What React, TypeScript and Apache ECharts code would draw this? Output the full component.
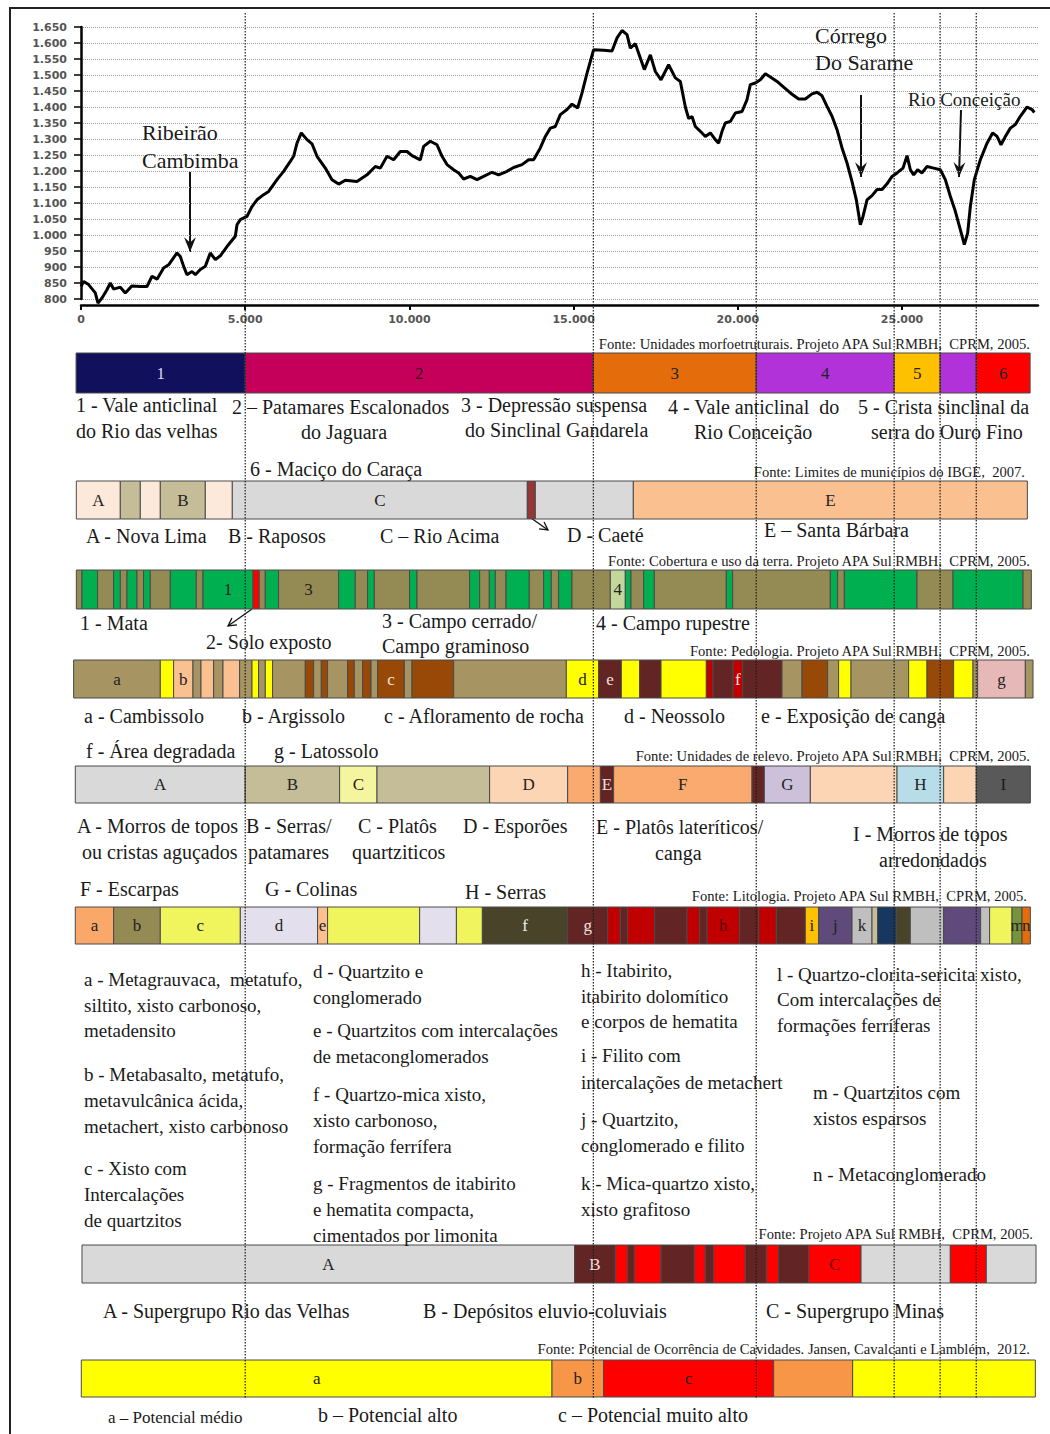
import React, { useEffect, useRef } from "react";
import * as echarts from "echarts";

// ---------------- DATA ----------------
const xTickValues = [0, 5000, 10000, 15000, 20000, 25000];
const guideDistances = [5000, 15600, 20560, 24760, 26160, 27260];

const profileDistance = [
  0, 80, 231, 435, 517, 639, 791, 892, 993, 1197, 1349, 1553, 1806, 2010, 2162, 2315, 2515, 2668, 2923, 3024,
  3125, 3226, 3380, 3481, 3633, 3785, 3937, 4090, 4242, 4445, 4699, 4750, 4851, 5055, 5207, 5359, 5561, 5714,
  5968, 6169, 6373, 6475, 6577, 6708, 6882, 7034, 7186, 7439, 7643, 7846, 8048, 8404, 8709, 8962, 9114, 9318,
  9519, 9723, 9927, 10079, 10332, 10433, 10636, 10840, 10993, 11145, 11346, 11498, 11650, 11854, 12058, 12259,
  12515, 12716, 12972, 13173, 13429, 13630, 13782, 13986, 14139, 14291, 14443, 14595, 14799, 14951, 15122,
  15256, 15408, 15609, 15914, 16169, 16322, 16474, 16626, 16727, 16879, 17031, 17153, 17336, 17488, 17662,
  17893, 18097, 18249, 18402, 18502, 18605, 18706, 18858, 19010, 19163, 19315, 19416, 19519, 19619, 19772,
  19924, 20128, 20280, 20381, 20533, 20685, 20838, 20990, 21194, 21394, 21599, 21852, 22055, 22259, 22412,
  22564, 22716, 22868, 23021, 23173, 23325, 23477, 23608, 23730, 23812, 23934, 24086, 24239, 24391, 24543,
  24696, 24848, 25030, 25152, 25253, 25354, 25476, 25609, 25761, 25963, 26166, 26318, 26470, 26623, 26775,
  26897, 26998, 27080, 27201, 27384, 27588, 27758, 27893, 28014, 28146, 28298, 28450, 28602, 28806, 28958, 29029,
];
const profileElevation = [
  839, 855, 845, 819, 787, 803, 829, 850, 831, 837, 819, 841, 839, 839, 871, 862, 897, 907, 944, 933,
  902, 876, 886, 876, 892, 902, 944, 923, 935, 964, 996, 1032, 1048, 1058, 1089, 1110, 1126, 1136,
  1173, 1199, 1230, 1246, 1287, 1319, 1298, 1285, 1246, 1209, 1173, 1159, 1171, 1167, 1188, 1214, 1209, 1246,
  1235, 1261, 1261, 1248, 1235, 1277, 1293, 1282, 1246, 1220, 1204, 1194, 1175, 1183, 1173, 1183,
  1196, 1188, 1199, 1211, 1220, 1235, 1235, 1272, 1308, 1334, 1339, 1376, 1392, 1409, 1397,
  1444, 1506, 1579, 1577, 1575, 1616, 1639, 1626, 1584, 1598, 1553, 1517, 1563, 1511, 1485,
  1532, 1491, 1480, 1400, 1364, 1370, 1339, 1324, 1308, 1319, 1298, 1287, 1324, 1350, 1355,
  1381, 1386, 1423, 1470, 1475, 1485, 1504, 1494, 1480, 1462, 1444, 1425, 1425, 1441, 1446,
  1435, 1402, 1371, 1329, 1272, 1225, 1167, 1110, 1032, 1058, 1110, 1123, 1142, 1142, 1160,
  1183, 1194, 1209, 1248, 1204, 1188, 1204, 1194, 1214, 1209, 1204, 1173, 1121, 1074, 1017,
  970, 1006, 1089, 1173, 1235, 1287, 1319, 1308, 1282, 1308, 1334, 1345, 1371, 1400, 1392, 1383,
];

// strips: [start m, end m, class, label]
const morphoSegments: [number, number, string, string][] = [
  [-150, 5000, "1", "1"], [5000, 15600, "2", "2"], [15600, 20560, "3", "3"], [20560, 24760, "4", "4"],
  [24760, 26160, "5", "5"], [26160, 27260, "4", ""], [27260, 28900, "6", "6"],
];
const municipioSegments: [number, number, string, string][] = [
  [-143, 1197, "A", "A"], [1197, 1806, "B", ""], [1806, 2415, "A", ""], [2415, 3785, "B", "B"],
  [3785, 4607, "A", ""], [4607, 13590, "C", "C"], [13590, 13834, "D", ""], [13834, 16818, "C", ""],
  [16818, 28816, "E", "E"],
];
const coberturaSegments: [number, number, string, string][] = [
  [-143, 30, "C", ""], [30, 505, "M", ""], [505, 993, "C", ""], [993, 1197, "M", ""], [1197, 1401, "C", ""],
  [1401, 1705, "M", ""], [1705, 1906, "C", ""], [1906, 2110, "M", ""], [2110, 2719, "C", ""], [2719, 3511, "M", ""],
  [3511, 3715, "C", ""], [3715, 5238, "M", "1"], [5238, 5429, "S", ""], [5429, 5612, "C", ""], [5612, 6017, "M", ""],
  [6017, 7844, "C", "3"], [7844, 8353, "M", ""], [8353, 8727, "C", ""], [8727, 8931, "M", ""], [8931, 10006, "C", ""],
  [10006, 10231, "M", ""], [10231, 11833, "C", ""], [11833, 12138, "M", ""], [12138, 12433, "C", ""],
  [12433, 12616, "M", ""], [12616, 12942, "C", ""], [12942, 13651, "M", ""], [13651, 14087, "C", ""],
  [14087, 14321, "M", ""], [14321, 14543, "C", ""], [14543, 14951, "M", ""], [14951, 16117, "C", ""],
  [16117, 16574, "R", "4"], [16574, 16748, "M", ""], [16748, 17132, "C", ""], [17132, 17458, "M", ""],
  [17458, 19650, "C", ""], [19650, 19842, "M", ""], [19842, 22817, "C", ""], [22817, 23039, "M", ""],
  [23039, 23243, "C", ""], [23243, 25457, "M", ""], [25457, 26553, "C", ""], [26553, 28685, "M", ""],
  [28685, 28937, "C", ""],
];
const pedologiaSegments: [number, number, string, string][] = [
  [-225, 2415, "a", "a"], [2415, 2820, "y", ""], [2820, 3410, "b", "b"], [3410, 3654, "a", ""], [3654, 4038, "b", ""],
  [4038, 4324, "a", ""], [4324, 4830, "b", ""], [4830, 5207, "a", ""], [5207, 5408, "y", ""], [5408, 5612, "a", ""],
  [5612, 5834, "y", ""], [5834, 6830, "a", ""], [6830, 7083, "c", ""], [7083, 7317, "a", ""], [7317, 7509, "c", ""],
  [7509, 8118, "a", ""], [8118, 8322, "c", ""], [8322, 8575, "a", ""], [8575, 8831, "c", ""], [8831, 9032, "a", ""],
  [9032, 9845, "c", "c"], [9845, 10079, "a", ""], [10079, 11346, "c", ""], [11346, 14778, "a", ""],
  [14778, 15761, "y", "d"], [15761, 16453, "e", "e"], [16453, 17010, "y", ""], [17010, 17662, "e", ""],
  [17662, 19041, "y", ""], [19041, 19245, "f", ""], [19245, 19854, "e", ""], [19854, 20146, "f", "f"],
  [20146, 21346, "e", ""], [21346, 21955, "a", ""], [21955, 22734, "c", ""], [22734, 23069, "a", ""],
  [23069, 23447, "y", ""], [23447, 25201, "a", ""], [25201, 25761, "y", ""], [25761, 26571, "c", ""],
  [26571, 27162, "y", ""], [27162, 27302, "a", ""], [27302, 28755, "g", "g"], [28755, 28989, "a", ""],
];
const relevoSegments: [number, number, string, string][] = [
  [-174, 5000, "A", "A"], [5000, 7875, "B", "B"], [7875, 9013, "C", "C"], [9013, 12442, "B", ""],
  [12442, 14818, "D", "D"], [14818, 15816, "F", ""], [15816, 16218, "E", "E"], [16218, 20432, "F", "F"],
  [20432, 20807, "E", ""], [20807, 22208, "G", "G"], [22208, 24848, "D", ""], [24848, 26267, "H", "H"],
  [26267, 27262, "D", ""], [27262, 28907, "I", "I"],
];
const litologiaSegments: [number, number, string, string][] = [
  [-174, 993, "a", "a"], [993, 2415, "b", "b"], [2415, 4851, "c", "c"], [4851, 7205, "d", "d"],
  [7205, 7509, "e", "e"], [7509, 10311, "c", ""], [10311, 11431, "d", ""], [11431, 12222, "c", ""],
  [12222, 14818, "f", "f"], [14818, 16035, "g", "g"], [16035, 16422, "h", ""], [16422, 16644, "g", ""],
  [16644, 17467, "h", ""], [17467, 18453, "g", ""], [18453, 18837, "h", ""], [18837, 19062, "g", ""],
  [19062, 20055, "h", "h"], [20055, 20633, "g", ""], [20633, 21172, "h", ""], [21172, 22055, "g", ""],
  [22055, 22460, "i", "i"], [22460, 23477, "j", "j"], [23477, 24086, "k", "k"], [24086, 24257, "t", ""],
  [24257, 24826, "l", ""], [24826, 25252, "f", ""], [25252, 26267, "k", ""], [26267, 27393, "j", ""],
  [27393, 27667, "k", ""], [27667, 28350, "c", ""], [28350, 28654, "m", "m"], [28654, 28907, "n", "n"],
];
const projetoSegments: [number, number, string, string][] = [
  [30, 15030, "A", "A"], [15030, 16270, "B", "B"], [16270, 16644, "C", ""], [16644, 16848, "B", ""],
  [16848, 17662, "C", ""], [17662, 18675, "B", ""], [18675, 19010, "C", ""], [19010, 19263, "B", ""],
  [19263, 20231, "C", ""], [20231, 20870, "B", ""], [20870, 21243, "C", ""], [21243, 22156, "B", ""],
  [22156, 23752, "C", "C"], [23752, 26470, "A", ""], [26470, 27566, "C", ""], [27566, 29080, "A", ""],
];
const potencialSegments: [number, number, string, string][] = [
  [9, 14342, "a", "a"], [14342, 15914, "b", "b"], [15914, 21090, "c", "c"], [21090, 23496, "b", ""],
  [23496, 29059, "a", ""],
];

// ---------------- STYLES ----------------
const DARK = "#222";
const LIGHT = "#eeeeee";
type Pal = Record<string, [string, string]>;
const morphoPal: Pal = {
  "1": ["#10105C", "#d8d8f0"], "2": ["#C4005A", "#3a0018"], "3": ["#E46C0A", DARK],
  "4": ["#B032D8", DARK], "5": ["#FFC000", DARK], "6": ["#FF0000", DARK],
};
const municipioPal: Pal = {
  A: ["#FDE9D9", DARK], B: ["#C4BD97", DARK], C: ["#D9D9D9", DARK], D: ["#953735", LIGHT], E: ["#FAC090", DARK],
};
const coberturaPal: Pal = {
  M: ["#00B050", DARK], C: ["#948A54", DARK], S: ["#FF0000", DARK], R: ["#C3D69B", DARK],
};
const pedologiaPal: Pal = {
  a: ["#A69563", DARK], y: ["#FFFF00", DARK], b: ["#FAC090", DARK], c: ["#984807", "#f3e3d3"],
  e: ["#632523", "#f0e0e0"], f: ["#C00000", "#ffe0e0"], g: ["#E6B9B8", DARK],
};
const relevoPal: Pal = {
  A: ["#D9D9D9", DARK], B: ["#C4BD97", DARK], C: ["#F5F5A0", DARK], D: ["#FCD5B4", DARK],
  F: ["#FAAA6E", DARK], E: ["#632523", "#f0e0e0"], G: ["#CCC0DA", DARK], H: ["#B7DEE8", DARK], I: ["#595959", "#1a1a1a"],
};
const litologiaPal: Pal = {
  a: ["#FAA86A", DARK], b: ["#948A54", DARK], c: ["#F0F55E", DARK], d: ["#E4DFEC", DARK], e: ["#FAC090", DARK],
  f: ["#494429", LIGHT], g: ["#632523", "#f0e0e0"], h: ["#C00000", "#5a0000"], i: ["#FFC000", DARK],
  j: ["#604A7B", DARK], k: ["#BFBFBF", DARK], t: ["#C4BD97", DARK], l: ["#17375E", LIGHT],
  m: ["#77933C", DARK], n: ["#E46C0A", DARK],
};
const projetoPal: Pal = { A: ["#D9D9D9", DARK], B: ["#632523", "#f0e0e0"], C: ["#FF0000", "#700000"] };
const potencialPal: Pal = { a: ["#FFFF00", DARK], b: ["#F79646", DARK], c: ["#FF0000", DARK] };

const strips = [
  { segs: morphoSegments, pal: morphoPal, top: 353, h: 40 },
  { segs: municipioSegments, pal: municipioPal, top: 481, h: 38 },
  { segs: coberturaSegments, pal: coberturaPal, top: 570, h: 39 },
  { segs: pedologiaSegments, pal: pedologiaPal, top: 660, h: 38 },
  { segs: relevoSegments, pal: relevoPal, top: 766, h: 37 },
  { segs: litologiaSegments, pal: litologiaPal, top: 907, h: 37 },
  { segs: projetoSegments, pal: projetoPal, top: 1245, h: 38 },
  { segs: potencialSegments, pal: potencialPal, top: 1360, h: 37 },
];

const SERIF = '"Liberation Serif", "Times New Roman", serif';
const FS = 14.6;

// [text, x, y, size, align]
const texts: [string, number, number, number, string?][] = [
  ["Ribeirão", 142, 132, 22], ["Cambimba", 142, 160, 22],
  ["Córrego", 815, 35, 22], ["Do Sarame", 815, 62, 22], ["Rio Conceição", 908, 99, 19],
  ["Fonte: Unidades morfoetruturais. Projeto APA Sul RMBH,  CPRM, 2005.", 1030, 344, FS, "right"],
  ["1 - Vale anticlinal", 76, 405, 20], ["do Rio das velhas", 76, 431, 20],
  ["2 – Patamares Escalonados", 232, 407, 20], ["do Jaguara", 301, 432, 20],
  ["3 - Depressão suspensa", 461, 405, 20], ["do Sinclinal Gandarela", 465, 430, 20],
  ["4 - Vale anticlinal  do", 668, 407, 20], ["Rio Conceição", 694, 432, 20],
  ["5 - Crista sinclinal da", 858, 407, 20], ["serra do Ouro Fino", 871, 432, 20],
  ["6 - Maciço do Caraça", 250, 469, 20],
  ["Fonte: Limites de municípios do IBGE,  2007.", 1025, 472, FS, "right"],
  ["A - Nova Lima", 86, 536, 20], ["B - Raposos", 228, 536, 20], ["C – Rio Acima", 380, 536, 20],
  ["D - Caeté", 567, 535, 20], ["E – Santa Bárbara", 764, 530, 20],
  ["Fonte: Cobertura e uso da terra. Projeto APA Sul RMBH,  CPRM, 2005.", 1030, 561, FS, "right"],
  ["1 - Mata", 80, 623, 20], ["2- Solo exposto", 206, 642, 20], ["3 - Campo cerrado/", 382, 621, 20],
  ["Campo graminoso", 382, 646, 20], ["4 - Campo rupestre", 596, 623, 20],
  ["Fonte: Pedologia. Projeto APA Sul RMBH,  CPRM, 2005.", 1030, 651, FS, "right"],
  ["a - Cambissolo", 84, 716, 20], ["b - Argissolo", 242, 716, 20], ["c - Afloramento de rocha", 384, 716, 20],
  ["d - Neossolo", 624, 716, 20], ["e - Exposição de canga", 761, 716, 20],
  ["f - Área degradada", 86, 751, 20], ["g - Latossolo", 274, 751, 20],
  ["Fonte: Unidades de relevo. Projeto APA Sul RMBH,  CPRM, 2005.", 1030, 756, FS, "right"],
  ["A - Morros de topos", 77, 826, 20], ["ou cristas aguçados", 82, 852, 20],
  ["B - Serras/", 246, 826, 20], ["patamares", 248, 852, 20],
  ["C - Platôs", 358, 826, 20], ["quartziticos", 352, 852, 20], ["D - Esporões", 463, 826, 20],
  ["E - Platôs lateríticos/", 596, 827, 20], ["canga", 655, 853, 20],
  ["I - Morros de topos", 853, 834, 20], ["arredondados", 879, 860, 20],
  ["F - Escarpas", 80, 889, 20], ["G - Colinas", 265, 889, 20], ["H - Serras", 465, 892, 20],
  ["Fonte: Litologia. Projeto APA Sul RMBH,  CPRM, 2005.", 1027, 896, FS, "right"],
  ["a - Metagrauvaca,  metatufo,", 84, 979, 19], ["siltito, xisto carbonoso,", 84, 1005, 19], ["metadensito", 84, 1030, 19],
  ["b - Metabasalto, metatufo,", 84, 1074, 19], ["metavulcânica ácida,", 84, 1100, 19], ["metachert, xisto carbonoso", 84, 1126, 19],
  ["c - Xisto com", 84, 1168, 19], ["Intercalações", 84, 1194, 19], ["de quartzitos", 84, 1220, 19],
  ["d - Quartzito e", 313, 971, 19], ["conglomerado", 313, 997, 19],
  ["e - Quartzitos com intercalações", 313, 1030, 19], ["de metaconglomerados", 313, 1056, 19],
  ["f - Quartzo-mica xisto,", 313, 1094, 19], ["xisto carbonoso,", 313, 1120, 19], ["formação ferrífera", 313, 1146, 19],
  ["g - Fragmentos de itabirito", 313, 1183, 19], ["e hematita compacta,", 313, 1209, 19], ["cimentados por limonita", 313, 1235, 19],
  ["h - Itabirito,", 581, 970, 19], ["itabirito dolomítico", 581, 996, 19], ["e corpos de hematita", 581, 1021, 19],
  ["i - Filito com", 581, 1055, 19], ["intercalações de metachert", 581, 1082, 19],
  ["j - Quartzito,", 581, 1119, 19], ["conglomerado e filito", 581, 1145, 19],
  ["k - Mica-quartzo xisto,", 581, 1183, 19], ["xisto grafitoso", 581, 1209, 19],
  ["l - Quartzo-clorita-sericita xisto,", 777, 974, 19], ["Com intercalações de", 777, 999, 19], ["formações ferríferas", 777, 1025, 19],
  ["m - Quartzitos com", 813, 1092, 19], ["xistos esparsos", 813, 1118, 19], ["n - Metaconglomerado", 813, 1174, 19],
  ["Fonte: Projeto APA Sul RMBH,  CPRM, 2005.", 1033, 1234, FS, "right"],
  ["A - Supergrupo Rio das Velhas", 103, 1311, 20], ["B - Depósitos eluvio-coluviais", 423, 1311, 20],
  ["C - Supergrupo Minas", 766, 1311, 20],
  ["Fonte: Potencial de Ocorrência de Cavidades. Jansen, Cavalcanti e Lamblém,  2012.", 1030, 1349, FS, "right"],
  ["a – Potencial médio", 108, 1417, 17], ["b – Potencial alto", 318, 1415, 20], ["c – Potencial muito alto", 558, 1415, 20],
];

// [x1, y1, x2, y2, headSize, filled]
const arrows: [number, number, number, number, number, boolean][] = [
  [190, 172, 190, 252, 16, true],
  [861, 95, 861, 177, 16, true],
  [961, 110, 959, 177, 16, true],
  [531, 518, 548, 530, 9, false],
  [252, 609, 228, 626, 9, false],
];

function fmtThousands(v: number): string {
  if (v >= 1000) return `${Math.floor(v / 1000)}.${String(v % 1000).padStart(3, "0")}`;
  return String(v);
}

function arrowEls(a: [number, number, number, number, number, boolean]) {
  const [x1, y1, x2, y2, size, filled] = a;
  const ang = Math.atan2(y2 - y1, x2 - x1);
  const spread = filled ? 0.38 : 0.5;
  const a1 = ang + Math.PI - spread;
  const a2 = ang - Math.PI + spread;
  const p1 = [x2 + size * Math.cos(a1), y2 + size * Math.sin(a1)];
  const p2 = [x2 + size * Math.cos(a2), y2 + size * Math.sin(a2)];
  const back = [x2 - size * 0.6 * Math.cos(ang), y2 - size * 0.6 * Math.sin(ang)];
  const els: any[] = [
    { type: "line", shape: { x1, y1, x2, y2 }, style: { stroke: "#111", lineWidth: filled ? 2 : 1.3 } },
  ];
  if (filled) {
    els.push({ type: "polygon", shape: { points: [p1, [x2, y2], p2, back] }, style: { fill: "#111" } });
  } else {
    els.push({ type: "polyline", shape: { points: [p1, [x2, y2], p2] }, style: { stroke: "#111", lineWidth: 1.3, fill: null } });
  }
  return els;
}

export default function App() {
  const ref = useRef<HTMLDivElement>(null);

  useEffect(() => {
    const chart = echarts.init(ref.current!, null, { renderer: "svg" });
    const X_MAX = 29140;
    const LEFT = 81;
    const RIGHT = 12;

    const grid: any[] = [];
    const xAxis: any[] = [];
    const yAxis: any[] = [];
    const series: any[] = [];

    const tickLabel = {
      color: "#555",
      fontWeight: "bold",
      fontFamily: "DejaVu Sans",
      fontSize: 11,
    };

    // profile
    grid.push({ left: LEFT, right: RIGHT, top: 27, height: 272 });
    xAxis.push({
      type: "value", gridIndex: 0, min: 0, max: X_MAX, interval: 5000, offset: 6,
      axisLine: { show: true, lineStyle: { color: "#000", width: 2.5 } },
      axisTick: { show: true, length: 5, customValues: xTickValues, lineStyle: { color: "#000", width: 2 } },
      axisLabel: {
        ...tickLabel, margin: 9, customValues: xTickValues,
        formatter: (v: number) => (v % 5000 === 0 ? fmtThousands(v) : ""),
      },
      splitLine: { show: false },
    });
    yAxis.push({
      type: "value", gridIndex: 0, min: 800, max: 1650, interval: 50, offset: 4,
      axisLine: { show: true, lineStyle: { color: "#000", width: 2.5 } },
      axisTick: { show: true, length: 7, lineStyle: { color: "#000", width: 1.5 } },
      axisLabel: { ...tickLabel, margin: 10, formatter: (v: number) => fmtThousands(v) },
      splitLine: { show: true, lineStyle: { type: "dotted", color: "#9a9a9a", width: 1 } },
    });
    series.push({
      type: "line", xAxisIndex: 0, yAxisIndex: 0,
      data: profileDistance.map((d, i) => [d, profileElevation[i]]),
      symbol: "none", showSymbol: false, clip: false, z: 5,
      lineStyle: { color: "#000", width: 3 },
    });

    // strips
    strips.forEach((st, si) => {
      const gi = si + 1;
      grid.push({ left: LEFT, right: RIGHT, top: st.top, height: st.h });
      xAxis.push({ type: "value", gridIndex: gi, min: 0, max: X_MAX, show: false });
      yAxis.push({ type: "value", gridIndex: gi, min: 0, max: 1, show: false });
      series.push({
        type: "custom", xAxisIndex: gi, yAxisIndex: gi, clip: false, z: 3,
        data: st.segs.map((s) => [s[0], s[1], 0]),
        encode: { x: [0, 1], y: 2 },
        renderItem: (params: any, api: any) => {
          const seg = st.segs[params.dataIndex];
          const p0 = api.coord([api.value(0), 1]);
          const p1 = api.coord([api.value(1), 0]);
          const [fill, txt] = st.pal[seg[2]];
          const children: any[] = [
            {
              type: "rect",
              shape: { x: p0[0], y: p0[1], width: p1[0] - p0[0], height: p1[1] - p0[1] },
              style: { fill, stroke: "#4a4a4a", lineWidth: 1 },
            },
          ];
          if (seg[3]) {
            children.push({
              type: "text",
              x: (p0[0] + p1[0]) / 2,
              y: (p0[1] + p1[1]) / 2,
              style: {
                text: seg[3], fill: txt, font: `17px ${SERIF}`,
                align: "center", verticalAlign: "middle", textAlign: "center", textVerticalAlign: "middle",
              },
            });
          }
          return { type: "group", children };
        },
      });
    });

    // dotted guide lines
    const gg = strips.length + 1;
    grid.push({ left: LEFT, right: RIGHT, top: 13, bottom: 36 });
    xAxis.push({ type: "value", gridIndex: gg, min: 0, max: X_MAX, show: false });
    yAxis.push({ type: "value", gridIndex: gg, min: 0, max: 1, show: false });
    series.push({
      type: "custom", xAxisIndex: gg, yAxisIndex: gg, z: 20, clip: false,
      data: guideDistances.map((d) => [d, 0]),
      encode: { x: 0, y: 1 },
      renderItem: (_p: any, api: any) => {
        const top = api.coord([api.value(0), 1]);
        const bot = api.coord([api.value(0), 0]);
        return {
          type: "line",
          shape: { x1: top[0], y1: top[1], x2: bot[0], y2: bot[1] },
          style: { stroke: "#1a1a1a", lineWidth: 1.2, lineDash: [1.6, 1.4] },
        };
      },
    });

    const graphic: any[] = [
      { type: "rect", shape: { x: 10, y: 8, width: 1060, height: 1450 }, style: { fill: null, stroke: "#222", lineWidth: 2 }, z: 30 },
    ];
    arrows.forEach((a) => graphic.push(...arrowEls(a)));
    texts.forEach(([t, x, y, size, align]) => {
      graphic.push({
        type: "text", x, y, z: 25,
        style: {
          text: t, fill: "#1a1a1a", font: `${size}px ${SERIF}`,
          align: align || "left", textAlign: align || "left",
          verticalAlign: "middle", textVerticalAlign: "middle",
        },
      });
    });

    chart.setOption({
      animation: false,
      backgroundColor: "#fff",
      grid, xAxis, yAxis, series, graphic,
    });
    return () => chart.dispose();
  }, []);

  return (
    <div
      ref={ref}
      style={{ position: "absolute", left: 0, top: 0, width: 1050, height: 1434 }}
    />
  );
}
